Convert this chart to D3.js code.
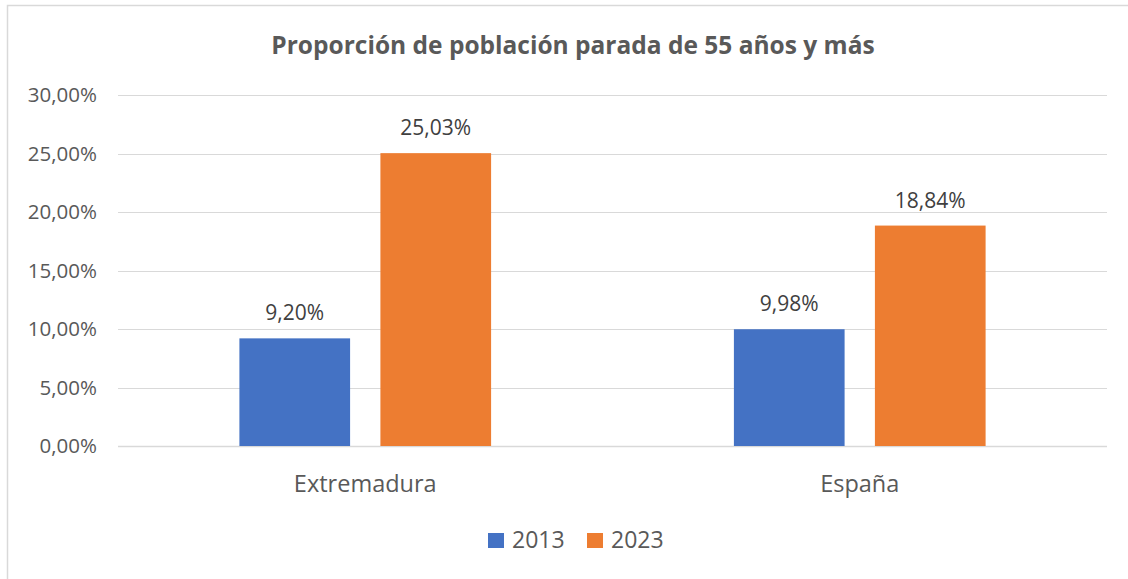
<!DOCTYPE html>
<html>
<head>
<meta charset="utf-8">
<script src="https://cdn.jsdelivr.net/npm/d3@7"></script>
<style>
  body { margin: 0; background: #fff; }
  svg { display: block; font-family: "Open Sans", sans-serif; }
</style>
</head>
<body>
<div id="chart"></div>
<script>
// Proporción de población parada de 55 años y más

const categories = ["Extremadura", "España"];
const series = ["2013", "2023"];
const values2013 = [9.20, 9.98];
const values2023 = [25.03, 18.84];
const yTicks = [0, 5, 10, 15, 20, 25, 30];
const colors = ["#4472C4", "#ED7D31"];

const width = 1128;
const height = 579;
const margin = { top: 95, right: 21, bottom: 133, left: 118 };

const svg = d3.select("#chart")
    .append("svg")
    .attr("width", width)
    .attr("height", height);

// chart border
svg.append("path")
    .attr("d", `M${width},5.5 H7.5 V${height}`)
    .attr("fill", "none")
    .attr("stroke", "#d9d9d9")
    .attr("stroke-width", 1.5);

svg.append("text")
    .attr("x", 573)
    .attr("y", 54)
    .attr("text-anchor", "middle")
    .attr("font-size", "24.5px")
    .attr("font-weight", "bold")
    .attr("fill", "#595959")
    .text("Proporción de población parada de 55 años y más");

const fmt = v => v.toFixed(2).replace(".", ",") + "%";

const x0 = d3.scaleBand()
    .domain(categories)
    .range([margin.left, width - margin.right]);

const x1 = d3.scaleBand()
    .domain(series)
    .range([0, x0.bandwidth()])
    .paddingInner(0.215)
    .paddingOuter(0.861);

const y = d3.scaleLinear()
    .domain([0, 30])
    .range([height - margin.bottom, margin.top]);

// gridlines
svg.append("g")
    .selectAll("line")
    .data(yTicks)
    .enter().append("line")
    .attr("x1", margin.left)
    .attr("x2", width - margin.right)
    .attr("y1", d => Math.round(y(d)) + 0.5)
    .attr("y2", d => Math.round(y(d)) + 0.5)
    .attr("stroke", "#d9d9d9")
    .attr("stroke-width", d => d === 0 ? 1.5 : 1);

// y tick labels
svg.append("g")
    .selectAll("text")
    .data(yTicks)
    .enter().append("text")
    .attr("x", 97)
    .attr("y", d => y(d))
    .attr("dy", "0.35em")
    .attr("text-anchor", "end")
    .attr("font-size", "20.5px")
    .attr("fill", "#595959")
    .text(d => fmt(d));

const rows = categories.map((c, i) => ({
    category: c,
    values: [
        { key: series[0], value: values2013[i], color: colors[0] },
        { key: series[1], value: values2023[i], color: colors[1] }
    ]
}));

const groups = svg.append("g")
    .selectAll("g")
    .data(rows)
    .enter().append("g")
    .attr("transform", d => `translate(${x0(d.category)},0)`);

groups.selectAll("rect")
    .data(d => d.values)
    .enter().append("rect")
    .attr("x", d => x1(d.key))
    .attr("y", d => y(d.value))
    .attr("width", x1.bandwidth())
    .attr("height", d => y(0) - y(d.value))
    .attr("fill", d => d.color);

groups.selectAll("text.label")
    .data(d => d.values)
    .enter().append("text")
    .attr("class", "label")
    .attr("x", d => x1(d.key) + x1.bandwidth() / 2)
    .attr("y", d => y(d.value) - 18)
    .attr("text-anchor", "middle")
    .attr("font-size", "21px")
    .attr("fill", "#404040")
    .text(d => fmt(d.value));

// category labels
svg.append("g")
    .selectAll("text")
    .data(categories)
    .enter().append("text")
    .attr("x", d => x0(d) + x0.bandwidth() / 2)
    .attr("y", 492)
    .attr("text-anchor", "middle")
    .attr("font-size", "23.5px")
    .attr("fill", "#595959")
    .text(d => d);

// legend
const legendX = [488, 587];
const legend = svg.append("g")
    .selectAll("g")
    .data(series)
    .enter().append("g")
    .attr("transform", (d, i) => `translate(${legendX[i]},533)`);

legend.append("rect")
    .attr("width", 16)
    .attr("height", 15)
    .attr("fill", (d, i) => colors[i]);

legend.append("text")
    .attr("x", 24)
    .attr("y", 15)
    .attr("font-size", "23px")
    .attr("fill", "#595959")
    .text(d => d);
</script>
</body>
</html>
